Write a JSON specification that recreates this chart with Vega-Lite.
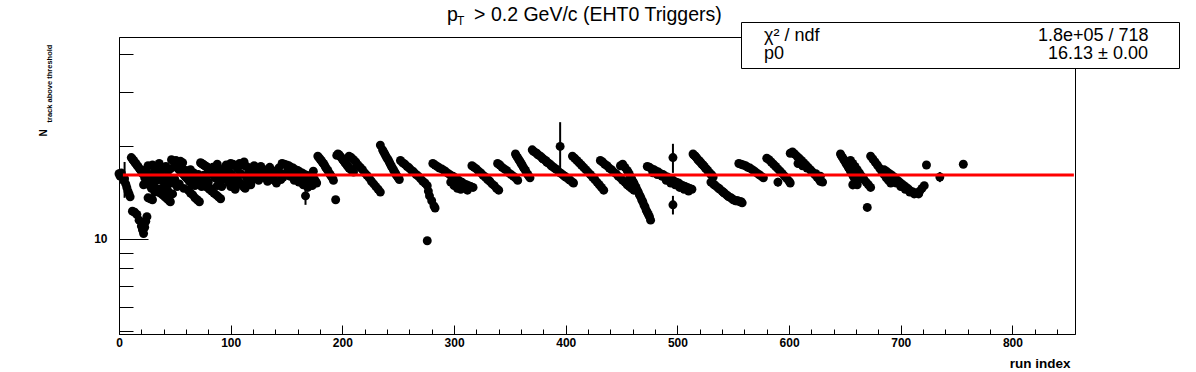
{
"$schema":"https://vega.github.io/schema/vega-lite/v6.json",
"width":956,"height":297,
"autosize":{"type":"none"},
"padding":{"left":119,"top":37,"right":121,"bottom":38},
"background":"white",
"title":{"text":"p\u00a0\u00a0\u00a0> 0.2 GeV/c (EHT0 Triggers)","subtitle":"\u200b\u00a0\u00a0\u00a0T","anchor":"start","frame":"group","dx":328,"offset":-6.5,"font":"Liberation Sans","fontSize":19.5,"fontWeight":"normal","color":"black","subtitleFont":"Liberation Sans","subtitleFontSize":12,"subtitleColor":"black","subtitlePadding":-9.5},
"datasets":{
"fit":[{"p0":16.13,"xmin":3.5,"xmax":855}],
"stats":[{"stat":"χ² / ndf","value":"1.8e+05 / 718"},{"stat":"p0","value":"16.13 ± 0.00"}],
"points":[
{"x":0,"y":16.3},{"x":1,"y":16.0},{"x":2,"y":16.4},{"x":3,"y":15.9},{"x":4,"y":15.5},{"x":5,"y":15.7,"e":2.1},{"x":6,"y":15.1},{"x":7,"y":14.7},{"x":8,"y":14.3},{"x":9,"y":14.0},{"x":10,"y":13.7},
{"x":11,"y":18.4},{"x":12,"y":18.2},{"x":13,"y":18.0},{"x":14,"y":17.8},{"x":15,"y":17.6},{"x":16,"y":17.4},{"x":17,"y":17.2},{"x":18,"y":17.0},{"x":19,"y":16.8},{"x":20,"y":16.6},
{"x":12,"y":12.3},{"x":14,"y":12.2},{"x":16,"y":12.0},{"x":18,"y":11.5},{"x":20,"y":11.0},{"x":21,"y":10.7},{"x":22,"y":10.4},{"x":23,"y":10.9},{"x":24,"y":11.4},{"x":25,"y":11.8},
{"x":26,"y":13.6},{"x":28,"y":13.5},{"x":30,"y":13.4},
{"x":21,"y":16.3},{"x":23,"y":15.8},{"x":25,"y":15.4},{"x":27,"y":15.0},{"x":29,"y":14.6},
{"x":22,"y":15.0},{"x":24,"y":16.8},{"x":26,"y":17.3},{"x":28,"y":16.2},{"x":30,"y":15.7},{"x":32,"y":14.2},{"x":34,"y":15.5},{"x":36,"y":17.6},{"x":38,"y":14.6},{"x":40,"y":16.8},{"x":42,"y":17.2},{"x":44,"y":14.3},{"x":46,"y":16.9},{"x":48,"y":14.0},{"x":50,"y":15.6},{"x":52,"y":14.8},{"x":54,"y":15.1},{"x":56,"y":17.1},{"x":58,"y":14.6},{"x":60,"y":16.7},{"x":62,"y":14.4},{"x":64,"y":16.8},{"x":66,"y":15.2},{"x":68,"y":14.9},{"x":70,"y":16.0},{"x":72,"y":15.4},{"x":74,"y":14.8},{"x":76,"y":16.1},{"x":78,"y":15.7},{"x":80,"y":15.3},{"x":82,"y":14.6},{"x":84,"y":17.1},{"x":86,"y":16.6},{"x":88,"y":14.9},{"x":90,"y":16.9},{"x":92,"y":14.8},{"x":94,"y":16.6},{"x":96,"y":15.9},{"x":98,"y":15.3},
{"x":30,"y":17.4},{"x":31,"y":17.2},{"x":32,"y":17.0},{"x":33,"y":16.8},{"x":34,"y":16.6},{"x":35,"y":16.4},{"x":36,"y":16.2},{"x":37,"y":16.0},{"x":38,"y":15.8},{"x":39,"y":15.6},{"x":40,"y":15.4},{"x":41,"y":15.2},{"x":42,"y":15.0},{"x":43,"y":14.9},
{"x":31,"y":14.9},{"x":33,"y":14.6},{"x":35,"y":14.4},{"x":37,"y":14.1},{"x":39,"y":13.9},{"x":41,"y":13.7},{"x":43,"y":13.5},{"x":45,"y":13.3},{"x":46,"y":13.2},
{"x":47,"y":18.1},{"x":49,"y":17.9},{"x":51,"y":18.0},{"x":53,"y":17.8},{"x":55,"y":17.9},{"x":57,"y":17.7},
{"x":50,"y":17.4},{"x":51,"y":17.2},{"x":52,"y":17.1},{"x":53,"y":16.9},{"x":54,"y":16.8},{"x":55,"y":16.6},{"x":56,"y":16.5},{"x":57,"y":16.3},{"x":58,"y":16.2},{"x":59,"y":16.0},{"x":60,"y":15.9},{"x":61,"y":15.7},{"x":62,"y":15.6},{"x":63,"y":15.4},{"x":64,"y":15.3},
{"x":44,"y":16.0},{"x":46,"y":15.6},{"x":48,"y":15.2},
{"x":64,"y":14.1},{"x":66,"y":13.9},{"x":68,"y":13.6},{"x":70,"y":13.4},{"x":72,"y":13.2},
{"x":65,"y":15.9},{"x":67,"y":16.4},{"x":69,"y":15.6},{"x":71,"y":16.2},
{"x":73,"y":17.7},{"x":74,"y":17.6},{"x":75,"y":17.5},{"x":76,"y":17.4},{"x":77,"y":17.3},{"x":78,"y":17.2},{"x":79,"y":17.1},{"x":80,"y":17.0},{"x":81,"y":16.8},{"x":82,"y":16.7},{"x":83,"y":16.6},
{"x":77,"y":14.9},{"x":79,"y":14.7},{"x":81,"y":14.5},{"x":83,"y":14.3},{"x":85,"y":14.1},{"x":87,"y":13.9},{"x":89,"y":13.7},{"x":91,"y":13.5},
{"x":88,"y":17.5},
{"x":84,"y":16.2},{"x":86,"y":15.8},{"x":88,"y":16.0},{"x":90,"y":15.5},{"x":92,"y":16.3},{"x":94,"y":15.7},
{"x":95,"y":16.9},{"x":96,"y":16.8},{"x":97,"y":16.7},{"x":98,"y":16.5},{"x":99,"y":16.4},{"x":100,"y":16.3},{"x":101,"y":16.1},{"x":102,"y":16.0},{"x":103,"y":15.9},{"x":104,"y":15.7},{"x":105,"y":15.6},{"x":106,"y":15.5},{"x":107,"y":15.4},{"x":108,"y":15.2},{"x":109,"y":15.1},{"x":110,"y":15.0},{"x":111,"y":14.9},{"x":112,"y":14.7},{"x":113,"y":14.6},
{"x":96,"y":17.4},{"x":99,"y":17.2},{"x":102,"y":17.5},{"x":105,"y":17.3},{"x":108,"y":17.6},{"x":111,"y":17.4},{"x":114,"y":17.2},{"x":117,"y":17.0},{"x":120,"y":16.8},
{"x":100,"y":14.8},{"x":104,"y":14.5},{"x":115,"y":15.3},{"x":118,"y":15.0},
{"x":100,"y":17.6},{"x":103,"y":14.9},{"x":106,"y":16.9},{"x":109,"y":16.3},{"x":112,"y":17.8},{"x":114,"y":15.9},{"x":116,"y":16.4},{"x":119,"y":15.6},{"x":121,"y":17.3},{"x":123,"y":16.2},{"x":127,"y":17.2},{"x":131,"y":15.8},{"x":135,"y":17.1},{"x":139,"y":15.5},{"x":143,"y":17.0},{"x":147,"y":15.9},{"x":149,"y":16.3},{"x":153,"y":16.0},{"x":157,"y":15.5},{"x":161,"y":15.3},{"x":165,"y":15.0},{"x":169,"y":14.7},{"x":173,"y":14.9},{"x":174,"y":16.6},{"x":177,"y":15.2},
{"x":122,"y":16.9},{"x":124,"y":16.8},{"x":126,"y":16.9},{"x":128,"y":16.7},{"x":130,"y":16.8},{"x":132,"y":16.6},{"x":134,"y":16.7},{"x":136,"y":16.5},{"x":138,"y":16.6},{"x":140,"y":16.4},{"x":142,"y":16.5},{"x":144,"y":16.3},{"x":146,"y":16.2},
{"x":121,"y":15.8},{"x":125,"y":15.5},{"x":129,"y":15.9},{"x":133,"y":15.4},{"x":137,"y":15.7},{"x":141,"y":15.2},{"x":145,"y":15.6},
{"x":146,"y":17.6},{"x":148,"y":17.5},{"x":150,"y":17.4},{"x":152,"y":17.3},{"x":154,"y":17.1},{"x":156,"y":17.0},{"x":158,"y":16.8},{"x":160,"y":16.7},{"x":162,"y":16.5},{"x":164,"y":16.4},{"x":166,"y":16.2},{"x":168,"y":16.1},{"x":170,"y":16.0},{"x":172,"y":15.9},{"x":173,"y":15.8},{"x":175,"y":15.6},{"x":176,"y":15.4},
{"x":151,"y":16.6},{"x":155,"y":16.3},{"x":159,"y":16.0},{"x":163,"y":15.7},{"x":167,"y":15.5},{"x":171,"y":15.2},
{"x":167,"y":13.8,"e":0.9},
{"x":178,"y":18.6},{"x":179,"y":18.4},{"x":180,"y":18.2},{"x":181,"y":18.0},{"x":182,"y":17.8},{"x":183,"y":17.6},{"x":184,"y":17.4},{"x":185,"y":17.1},{"x":186,"y":16.9},{"x":187,"y":16.7},{"x":188,"y":16.4},{"x":189,"y":16.2},{"x":190,"y":16.0},{"x":191,"y":15.8},{"x":192,"y":15.5},
{"x":194,"y":13.4},
{"x":195,"y":18.7},{"x":196,"y":18.9},{"x":197,"y":18.8},{"x":198,"y":18.6},{"x":199,"y":18.4},{"x":200,"y":18.2},{"x":201,"y":18.0},{"x":202,"y":17.8},{"x":203,"y":17.6},{"x":204,"y":17.4},{"x":205,"y":17.2},{"x":206,"y":17.0},{"x":207,"y":16.9},{"x":208,"y":16.8},{"x":209,"y":16.6},{"x":210,"y":16.5},
{"x":206,"y":18.6},{"x":208,"y":18.4},{"x":210,"y":18.1},{"x":212,"y":17.8},{"x":214,"y":17.4},{"x":216,"y":17.1},{"x":218,"y":16.8},{"x":220,"y":16.4},{"x":222,"y":16.1},{"x":224,"y":15.8},{"x":226,"y":15.4},{"x":228,"y":15.1},{"x":230,"y":14.8},{"x":232,"y":14.5},{"x":234,"y":14.2},
{"x":234,"y":20.2},
{"x":236,"y":19.5},{"x":237,"y":19.2},{"x":238,"y":18.9},{"x":239,"y":18.6},{"x":240,"y":18.3},{"x":241,"y":18.1},{"x":242,"y":17.8},{"x":243,"y":17.5},{"x":244,"y":17.2},{"x":245,"y":17.0},{"x":246,"y":16.7},{"x":247,"y":16.5},{"x":248,"y":16.2},{"x":249,"y":16.0},{"x":250,"y":15.8},{"x":251,"y":15.6},
{"x":252,"y":18.0},{"x":254,"y":17.7},{"x":256,"y":17.5},{"x":258,"y":17.2},{"x":260,"y":17.0},{"x":262,"y":16.7},{"x":264,"y":16.5},{"x":266,"y":16.2},{"x":268,"y":16.0},{"x":270,"y":15.7},{"x":272,"y":15.4},{"x":274,"y":15.2},{"x":276,"y":14.9},
{"x":277,"y":14.3},{"x":278,"y":13.8},{"x":280,"y":13.3},{"x":282,"y":12.8},{"x":283,"y":12.6},
{"x":276,"y":9.85},
{"x":281,"y":17.6},{"x":283,"y":17.4},{"x":285,"y":17.2},{"x":287,"y":17.0},{"x":289,"y":16.9},{"x":291,"y":16.7},{"x":293,"y":16.5},{"x":295,"y":16.3},{"x":297,"y":16.1},{"x":299,"y":16.0},{"x":301,"y":15.8},{"x":303,"y":15.6},{"x":305,"y":15.4},{"x":307,"y":15.3},{"x":309,"y":15.1},{"x":311,"y":15.0},{"x":313,"y":14.9},{"x":315,"y":14.8},{"x":317,"y":14.7},
{"x":297,"y":15.3},{"x":300,"y":14.9},{"x":303,"y":14.6},{"x":306,"y":14.5},{"x":309,"y":14.7},{"x":312,"y":14.4},
{"x":316,"y":17.3},{"x":318,"y":17.1},{"x":320,"y":16.9},{"x":322,"y":16.6},{"x":324,"y":16.4},{"x":326,"y":16.1},{"x":328,"y":15.9},{"x":330,"y":15.6},{"x":332,"y":15.4},{"x":334,"y":15.1},{"x":336,"y":14.9},{"x":338,"y":14.6},{"x":340,"y":14.4},
{"x":339,"y":17.6},{"x":341,"y":17.4},{"x":343,"y":17.1},{"x":345,"y":16.9},{"x":347,"y":16.7},{"x":349,"y":16.4},{"x":351,"y":16.2},{"x":353,"y":16.0},{"x":355,"y":15.8},{"x":357,"y":15.5},
{"x":355,"y":18.9},{"x":356,"y":18.6},{"x":357,"y":18.4},{"x":358,"y":18.1},{"x":359,"y":17.9},{"x":360,"y":17.6},{"x":361,"y":17.4},{"x":362,"y":17.1},{"x":363,"y":16.9},{"x":364,"y":16.7},{"x":365,"y":16.4},{"x":366,"y":16.2},{"x":367,"y":16.0},{"x":368,"y":15.8},
{"x":370,"y":19.5},{"x":372,"y":19.2},{"x":374,"y":19.0},{"x":376,"y":18.7},{"x":378,"y":18.5},{"x":380,"y":18.2},{"x":382,"y":18.0},{"x":384,"y":17.7},{"x":386,"y":17.5},{"x":388,"y":17.2},{"x":390,"y":17.0},{"x":392,"y":16.8},{"x":394,"y":16.5},{"x":396,"y":16.3},{"x":398,"y":16.1},{"x":400,"y":15.9},{"x":402,"y":15.7},{"x":404,"y":15.5},{"x":406,"y":15.3},{"x":407,"y":15.2},
{"x":371,"y":19.3},{"x":375,"y":18.8},{"x":379,"y":18.3},{"x":383,"y":17.8},{"x":387,"y":17.3},{"x":391,"y":16.9},{"x":395,"y":16.4},{"x":399,"y":16.0},{"x":403,"y":15.6},
{"x":395,"y":20.0,"e":4.0},
{"x":406,"y":18.6},{"x":408,"y":18.3},{"x":410,"y":18.0},{"x":412,"y":17.7},{"x":414,"y":17.4},{"x":416,"y":17.1},{"x":418,"y":16.8},{"x":420,"y":16.5},{"x":422,"y":16.2},{"x":424,"y":15.9},{"x":426,"y":15.6},{"x":428,"y":15.3},{"x":430,"y":15.0},{"x":432,"y":14.7},{"x":434,"y":14.4},
{"x":431,"y":18.0},{"x":433,"y":17.8},{"x":435,"y":17.5},{"x":437,"y":17.3},{"x":439,"y":17.0},{"x":441,"y":16.8},{"x":443,"y":16.5},{"x":445,"y":16.3},{"x":447,"y":16.0},{"x":449,"y":15.8},{"x":451,"y":15.5},{"x":453,"y":15.3},{"x":455,"y":15.0},{"x":457,"y":14.8},{"x":459,"y":14.6},{"x":461,"y":14.4},
{"x":449,"y":17.3},{"x":451,"y":17.5},{"x":453,"y":17.1},
{"x":455,"y":16.7},{"x":456,"y":16.5},{"x":457,"y":16.2},{"x":458,"y":15.9},{"x":459,"y":15.7},{"x":460,"y":15.4},{"x":461,"y":15.2},{"x":462,"y":14.9},{"x":463,"y":14.7},{"x":464,"y":14.4},{"x":465,"y":14.2},{"x":466,"y":13.9},{"x":467,"y":13.7},{"x":468,"y":13.4},{"x":469,"y":13.2},{"x":470,"y":12.9},{"x":471,"y":12.7},{"x":472,"y":12.4},{"x":473,"y":12.2},{"x":474,"y":12.0},{"x":475,"y":11.8},{"x":476,"y":11.5},
{"x":473,"y":17.2},{"x":475,"y":17.1},{"x":477,"y":16.9},{"x":479,"y":16.8},{"x":481,"y":16.6},{"x":483,"y":16.5},{"x":485,"y":16.3},{"x":487,"y":16.2},{"x":489,"y":16.0},{"x":491,"y":15.9},{"x":493,"y":15.7},{"x":495,"y":15.6},{"x":497,"y":15.4},{"x":499,"y":15.3},{"x":501,"y":15.2},{"x":503,"y":15.0},{"x":505,"y":14.9},{"x":507,"y":14.8},{"x":509,"y":14.7},{"x":511,"y":14.6},{"x":513,"y":14.5},
{"x":478,"y":16.4},{"x":482,"y":16.2},{"x":486,"y":16.0},{"x":490,"y":15.5},{"x":494,"y":15.2},{"x":498,"y":15.0},{"x":502,"y":14.7},{"x":506,"y":14.5},{"x":510,"y":14.3},
{"x":496,"y":18.4,"e":2.0},{"x":496,"y":12.9,"e":0.9},
{"x":514,"y":18.9},{"x":515,"y":18.7},{"x":516,"y":18.6},{"x":517,"y":18.4},{"x":518,"y":18.2},{"x":519,"y":18.0},{"x":520,"y":17.9},{"x":521,"y":17.7},{"x":522,"y":17.5},{"x":523,"y":17.4},{"x":524,"y":17.2},{"x":525,"y":17.0},{"x":526,"y":16.9},{"x":527,"y":16.7},{"x":528,"y":16.5},{"x":529,"y":16.4},{"x":530,"y":16.2},{"x":531,"y":16.1},{"x":532,"y":15.9},
{"x":530,"y":15.3},{"x":532,"y":15.1},{"x":533,"y":15.0},{"x":534,"y":14.9},{"x":536,"y":14.7},{"x":537,"y":14.6},{"x":538,"y":14.5},{"x":540,"y":14.3},{"x":541,"y":14.2},{"x":542,"y":14.1},{"x":544,"y":13.9},{"x":545,"y":13.8},{"x":546,"y":13.7},{"x":548,"y":13.6},{"x":549,"y":13.5},{"x":550,"y":13.4},{"x":552,"y":13.3},{"x":553,"y":13.3},{"x":554,"y":13.3},{"x":556,"y":13.2},{"x":557,"y":13.2},{"x":558,"y":13.1},
{"x":555,"y":17.6},{"x":557,"y":17.5},{"x":559,"y":17.4},{"x":561,"y":17.3},{"x":563,"y":17.1},{"x":565,"y":17.0},{"x":567,"y":16.8},{"x":569,"y":16.6},{"x":571,"y":16.4},{"x":573,"y":16.2},{"x":575,"y":16.0},{"x":577,"y":15.8},
{"x":580,"y":18.3},{"x":582,"y":18.1},{"x":584,"y":17.8},{"x":586,"y":17.5},{"x":588,"y":17.2},{"x":590,"y":16.9},{"x":592,"y":16.6},{"x":594,"y":16.3},{"x":596,"y":16.0},{"x":598,"y":15.7},{"x":600,"y":15.4},{"x":601,"y":15.2},
{"x":590,"y":15.3,"e":0.5},
{"x":601,"y":19.0},{"x":603,"y":19.2},{"x":605,"y":18.9},{"x":607,"y":18.6},{"x":609,"y":18.3},{"x":611,"y":18.0},{"x":613,"y":17.7},{"x":615,"y":17.4},{"x":617,"y":17.1},{"x":619,"y":16.8},{"x":621,"y":16.5},{"x":623,"y":16.2},{"x":625,"y":15.9},{"x":627,"y":15.6},{"x":628,"y":15.4},
{"x":608,"y":17.6},{"x":612,"y":17.3},{"x":616,"y":17.0},{"x":620,"y":16.6},{"x":624,"y":16.3},{"x":628,"y":16.0},{"x":630,"y":15.3},
{"x":646,"y":18.9},{"x":647,"y":18.6},{"x":648,"y":18.4},{"x":649,"y":18.1},{"x":650,"y":17.9},{"x":651,"y":17.6},{"x":652,"y":17.4},{"x":653,"y":17.1},{"x":654,"y":16.9},{"x":655,"y":16.6},{"x":656,"y":16.4},{"x":657,"y":16.1},{"x":658,"y":15.9},{"x":659,"y":15.6},{"x":660,"y":15.3},{"x":661,"y":15.0},
{"x":655,"y":18.0},{"x":657,"y":17.6},{"x":659,"y":17.2},{"x":661,"y":16.8},{"x":663,"y":16.4},{"x":665,"y":16.0},{"x":667,"y":15.6},{"x":669,"y":15.3},{"x":671,"y":15.0},{"x":673,"y":14.7},
{"x":657,"y":15.0,"e":0.5},
{"x":670,"y":12.65},
{"x":673,"y":18.6},{"x":675,"y":18.2},{"x":677,"y":17.8},{"x":679,"y":17.4},{"x":681,"y":17.0},{"x":683,"y":16.6},{"x":685,"y":16.2},{"x":687,"y":15.8},{"x":689,"y":15.5},{"x":691,"y":15.2},
{"x":685,"y":16.8},{"x":687,"y":16.6},{"x":689,"y":16.4},{"x":691,"y":16.2},{"x":693,"y":16.0},{"x":695,"y":15.8},{"x":697,"y":15.5},{"x":699,"y":15.3},{"x":701,"y":15.1},{"x":703,"y":14.9},{"x":705,"y":14.7},{"x":707,"y":14.5},{"x":709,"y":14.3},{"x":711,"y":14.2},{"x":713,"y":14.1},{"x":715,"y":14.1},{"x":717,"y":14.3},{"x":719,"y":14.6},{"x":721,"y":14.9},
{"x":696,"y":15.2},{"x":700,"y":14.8},{"x":704,"y":14.5},{"x":708,"y":14.2},{"x":712,"y":14.0},{"x":716,"y":14.0},
{"x":723,"y":17.4},
{"x":735,"y":15.9,"e":0.6},
{"x":756,"y":17.5}
]},
"layer":[
{"data":{"name":"points"},
 "mark":{"type":"point","filled":true,"color":"black","size":80,"opacity":1,"strokeWidth":0},
 "encoding":{
  "x":{"field":"x","type":"quantitative","title":"run index","scale":{"domain":[0,856],"nice":false,"zero":false},
   "axis":{"values":[0,100,200,300,400,500,600,700,800],
    "format":"d","tickSize":-9,
    "labelPadding":12,"labelFlush":false,"labelOverlap":false,"labelFont":"Liberation Sans","labelFontSize":12,"labelFontWeight":"bold","labelColor":"black",
    "title":"run index","titleX":951,"titleY":33,"titleAlign":"right","titleBaseline":"alphabetic","titleFont":"Liberation Sans","titleFontSize":13.5,"titleFontWeight":"bold","titleColor":"black",
    "grid":false,"domainColor":"black","tickColor":"black"}},
  "y":{"field":"y","type":"quantitative","scale":{"type":"log","domain":[4.89,45.5],"nice":false},
   "axis":{"values":[5,6,7,8,9,10,20,30,40],"labelExpr":"datum.value == 10 ? '10' : ''",
    "tickSize":{"condition":{"test":"datum.value == 10","value":-29},"value":-14},
    "labelPadding":41,"labelOverlap":false,"labelFont":"Liberation Sans","labelFontSize":12,"labelFontWeight":"bold","labelColor":"black",
    "title":"N","titleX":-73,"titleY":99,"titleAngle":270,"titleAlign":"left","titleBaseline":"alphabetic","titleFont":"Liberation Sans","titleFontSize":10,"titleFontWeight":"bold","titleColor":"black",
    "grid":false,"domainColor":"black","tickColor":"black"}}
 }},
{"data":{"name":"points"},
 "transform":[{"filter":"datum.e > 0"}],
 "mark":{"type":"errorbar","ticks":false,"color":"black","thickness":2},
 "encoding":{
  "x":{"field":"x","type":"quantitative","axis":null},
  "y":{"field":"y","type":"quantitative","axis":null},
  "yError":{"field":"e"}
 }},
{"data":{"name":"fit"},
 "mark":{"type":"rule","color":"#ff0000","strokeWidth":3},
 "encoding":{
  "x":{"field":"xmin","type":"quantitative",
   "axis":{"orient":"bottom","values":[20,40,60,80,120,140,160,180,220,240,260,280,320,340,360,380,420,440,460,480,520,540,560,580,620,640,660,680,720,740,760,780,820,840],
    "tickSize":-5,"labels":false,"domain":false,"title":null,"grid":false,"tickColor":"black"}},
  "x2":{"field":"xmax"},
  "y":{"field":"p0","type":"quantitative",
   "axis":{"orient":"right","domain":false,"ticks":false,"labels":false,"grid":false,
    "title":"track above threshold","titleX":-1024,"titleY":85,"titleAngle":270,"titleAlign":"left","titleBaseline":"alphabetic","titleFont":"Liberation Sans","titleFontSize":7.5,"titleFontWeight":"bold","titleColor":"black"}}
 }},
{"data":{"name":"stats"},
 "mark":{"type":"point","opacity":0},
 "encoding":{
  "shape":{"field":"stat","type":"nominal","sort":null,
   "legend":{"orient":"none","legendX":627,"legendY":-10,"title":null,"direction":"vertical","labelFont":"Liberation Sans","labelFontSize":18,"labelColor":"black","symbolSize":0,"symbolOpacity":0,"symbolStrokeWidth":0,"labelOffset":0,"padding":0,"rowPadding":0,"zindex":2,"labelLimit":400}},
  "color":{"field":"value","type":"nominal","sort":null,"scale":{"range":["black","black"]},
   "legend":{"orient":"none","legendX":622,"legendY":-15,"title":null,"direction":"vertical","labelFont":"Liberation Sans","labelFontSize":18,"labelColor":"black","symbolSize":0,"symbolOpacity":0,"symbolStrokeWidth":0,"labelOffset":274,"padding":5,"rowPadding":0,"strokeColor":"black","fillColor":"white","zindex":1,"labelLimit":500,"labelExpr":"(datum.label == '16.13 ± 0.00' ? '\u200b\u00a0\u00a0' : '') + datum.label + '\u00a0\u00a0\u00a0\u00a0\u00a0\u200b'"}}
 }}
],
"resolve":{"axis":{"x":"independent","y":"independent"}},
"config":{"font":"Liberation Sans","view":{"stroke":"black","strokeWidth":1},"axis":{"grid":false,"labelOverlap":false}}
}
